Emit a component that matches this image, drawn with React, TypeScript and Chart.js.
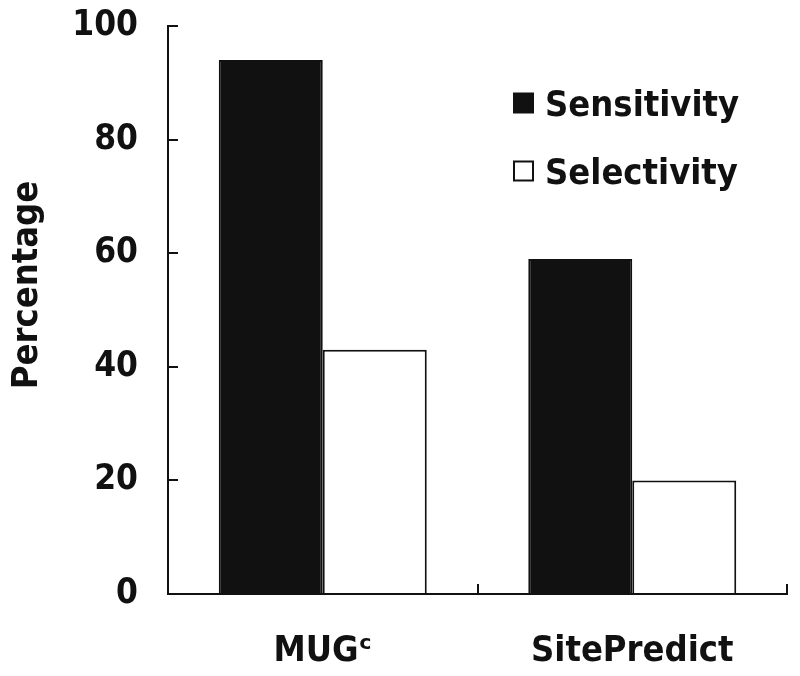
import React, { useEffect, useRef } from "react";
import { Chart, registerables } from "chart.js";

Chart.register(...registerables);

const categories = ["MUG\u1D9C", "SitePredict"];
const sensitivity = [94, 59];
const selectivity = [43, 20];
const seriesNames = ["Sensitivity", "Selectivity"];
const yTicks = [0, 20, 40, 60, 80, 100];
const yTitle = "Percentage";

const FONT = "'DejaVu Sans Condensed', 'DejaVu Sans', sans-serif";
const INK = "#111111";

const legendPlugin = {
  id: "customLegend",
  afterDraw(chart: any) {
    const ctx = chart.ctx;
    ctx.save();
    ctx.font = `bold 36px ${FONT}`;
    ctx.textAlign = "left";
    ctx.textBaseline = "alphabetic";
    const rows = [103, 171];
    chart.data.datasets.forEach((ds: any, i: number) => {
      const cy = rows[i];
      const bx = 514;
      const size = 19;
      ctx.fillStyle = ds.backgroundColor;
      ctx.fillRect(bx, cy - size / 2, size, size);
      ctx.lineWidth = 2;
      ctx.strokeStyle = INK;
      ctx.strokeRect(bx, cy - size / 2, size, size);
      ctx.fillStyle = INK;
      ctx.fillText(ds.label, 545, cy + 13);
    });
    ctx.restore();
  },
};

const yTitlePlugin = {
  id: "yTitle",
  afterDraw(chart: any) {
    const ctx = chart.ctx;
    ctx.save();
    ctx.translate(37, 285);
    ctx.rotate(-Math.PI / 2);
    ctx.font = `bold 36px ${FONT}`;
    ctx.fillStyle = INK;
    ctx.textAlign = "center";
    ctx.textBaseline = "alphabetic";
    ctx.fillText(yTitle, 0, 0);
    ctx.restore();
  },
};

export default function App() {
  const ref = useRef<HTMLCanvasElement | null>(null);

  useEffect(() => {
    if (!ref.current) return;
    const chart = new Chart(ref.current, {
      type: "bar",
      data: {
        labels: categories,
        datasets: [
          {
            label: seriesNames[0],
            data: sensitivity,
            backgroundColor: INK,
            borderColor: INK,
            borderWidth: 2,
            categoryPercentage: 0.672,
            barPercentage: 1.0,
          },
          {
            label: seriesNames[1],
            data: selectivity,
            backgroundColor: "#ffffff",
            borderColor: INK,
            borderWidth: 2,
            categoryPercentage: 0.672,
            barPercentage: 1.0,
          },
        ],
      },
      options: {
        responsive: false,
        animation: false,
        devicePixelRatio: 1,
        layout: { padding: { left: 0, top: 26, right: 13, bottom: 0 } },
        plugins: {
          legend: { display: false },
          tooltip: { enabled: false },
        },
        scales: {
          x: {
            afterFit(scale: any) {
              scale.height = 82;
              scale.paddingLeft = 0;
              scale.paddingRight = 0;
            },
            grid: {
              offset: true,
              drawOnChartArea: false,
              drawTicks: true,
              tickLength: -10,
              color: INK,
              lineWidth: 2,
            },
            border: { display: true, color: INK, width: 2 },
            ticks: {
              color: INK,
              padding: 46,
              font: { family: FONT, size: 36, weight: "bold" },
            },
          },
          y: {
            min: 0,
            max: 100,
            afterFit(scale: any) {
              scale.width = 168;
              scale.paddingTop = 0;
              scale.paddingBottom = 0;
            },
            afterBuildTicks(scale: any) {
              scale.ticks = yTicks.map((v) => ({ value: v }));
            },
            grid: {
              drawOnChartArea: false,
              drawTicks: true,
              tickLength: -10,
              color: INK,
              lineWidth: 2,
            },
            border: { display: true, color: INK, width: 2 },
            ticks: {
              color: INK,
              padding: 40,
              font: { family: FONT, size: 35, weight: "bold" },
            },
          },
        },
      },
      plugins: [legendPlugin, yTitlePlugin],
    });
    return () => chart.destroy();
  }, []);

  return (
    <div style={{ position: "absolute", left: 0, top: 0, width: 800, height: 676, background: "#fff" }}>
      <canvas ref={ref} width={800} height={676} />
    </div>
  );
}
